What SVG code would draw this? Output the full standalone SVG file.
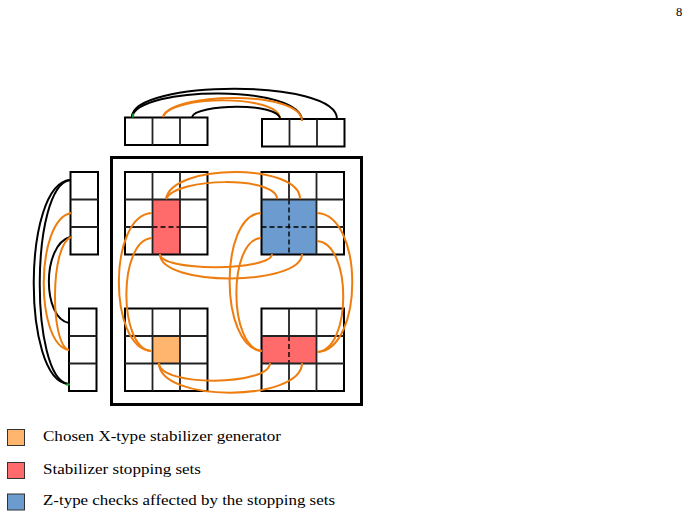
<svg xmlns="http://www.w3.org/2000/svg" width="689" height="518" viewBox="0 0 689 518">
<style>
.cell{fill:none;stroke:#000;stroke-width:2}
.inner{stroke:#222;stroke-width:1.8;fill:none}
.frame{fill:none;stroke:#000;stroke-width:3}
.dash{stroke:#000;stroke-width:1.4;stroke-dasharray:5,3;fill:none}
.red{fill:#FF6B6B}
.blue{fill:#6C9BCF}
.org{fill:#FFB56E}
.co{fill:none;stroke:#EE7D0F;stroke-width:2}
.cb{fill:none;stroke:#000;stroke-width:2}
.cg{fill:none;stroke:#1a9a2a;stroke-width:2}
.lg{stroke:#333;stroke-width:1}
.t{font-family:"Liberation Serif",serif;font-size:14px;fill:#000}
</style>
<rect width="689" height="518" fill="#fff"/>
<text class="t" x="676" y="16" style="font-size:12.5px">8</text>

<g id="frame"><rect class="frame" x="111.5" y="157.5" width="250" height="247"/></g>

<g id="grid-tl">
<rect class="red" x="152.5" y="199.5" width="27.5" height="55"/>
<path class="dash" d="M152.5,227 H180"/>
<rect class="cell" x="125" y="172" width="82.5" height="82.5"/>
<path class="inner" d="M152.5,172V254.5M180,172V254.5M125,199.5H207.5M125,227H152.5M180,227H207.5"/>
</g>
<g id="grid-tr">
<rect class="blue" x="261.5" y="199.5" width="55" height="55"/>
<path class="dash" d="M261.5,227H316.5M289,199.5V254.5"/>
<rect class="cell" x="261.5" y="172" width="82.5" height="82.5"/>
<path class="inner" d="M289,172V199.5M316.5,172V254.5M316.5,199.5H344M316.5,227H344M261.5,199.5H316.5"/>
</g>
<g id="grid-bl">
<rect class="org" x="152.5" y="336" width="27.5" height="27.5"/>
<rect class="cell" x="125" y="308.5" width="82.5" height="82.5"/>
<path class="inner" d="M152.5,308.5V391M180,308.5V391M125,336H207.5M125,363.5H207.5"/>
</g>
<g id="grid-br">
<rect class="red" x="261.5" y="336" width="55" height="27.5"/>
<path class="dash" d="M289,336V363.5"/>
<rect class="cell" x="261.5" y="308.5" width="82.5" height="82.5"/>
<path class="inner" d="M289,308.5V336M289,363.5V391M316.5,308.5V391M261.5,336H344M261.5,363.5H344"/>
</g>

<g id="top-left-array">
<rect class="cell" x="125" y="117.5" width="82.5" height="27.5"/>
<path class="inner" d="M152.5,117.5V145M180,117.5V145"/>
</g>
<g id="top-right-array">
<rect class="cell" x="262" y="119" width="82.5" height="27.5"/>
<path class="inner" d="M289.5,119V146.5M317,119V146.5"/>
</g>
<g id="left-top-array">
<rect class="cell" x="70.5" y="172" width="27.5" height="82.5"/>
<path class="inner" d="M70.5,199.5H98M70.5,227H98"/>
</g>
<g id="left-bottom-array">
<rect class="cell" x="69" y="308.5" width="27.5" height="82.5"/>
<path class="inner" d="M69,336H96.5M69,363.5H96.5"/>
</g>

<g id="connectors">
<path class="cb" d="M132,117 C132,80 337,78 337,119"/>
<path class="cb" d="M132,117 C138,86 302,84 302,121"/>
<path class="co" d="M163,117 C170,92 302,90 302,121"/>
<path class="co" d="M163,117 C170,95 280,94 280,119"/>
<path class="cb" d="M192,117 C195,104 280,102 280,119"/>
<path class="cg" d="M132.5,117.5 L133.5,113.5"/>

<path class="cb" d="M70,180 C22,184 22,380 68,384"/>
<path class="cb" d="M70,180 C30,186 30,378 68,384"/>
<path class="co" d="M71,213 C35,220 35,345 69,350"/>
<path class="cb" d="M70,237 C42,245 42,318 69,323"/>
<path class="co" d="M71,237 C50,245 50,345 69,350"/>
<path class="cg" d="M66,384.5 L70,384.5"/>

<path class="co" d="M166,199 C172,163 300,163 300,199"/>
<path class="co" d="M166,199 C176,177 277,176 277,199"/>
<path class="co" d="M152,213 C108,215 108,348 151,351"/>
<path class="co" d="M152,238 C118,240 118,348 151,351"/>
<path class="co" d="M160,254 C160,272 272,271 272,254"/>
<path class="co" d="M160,254 C160,287 302,286 302,254"/>
<path class="co" d="M261,213 C219,215 219,348 262,351"/>
<path class="co" d="M261,238 C228,240 228,348 262,351"/>
<path class="co" d="M317,213 C364,215 364,350 317,352"/>
<path class="co" d="M317,241 C352,243 352,350 317,352"/>
<path class="co" d="M159,363 C159,387 270,386 270,363"/>
<path class="co" d="M159,363 C159,403 302,402 302,363"/>
</g>

<g id="legend">
<rect class="org lg" x="7.5" y="429.5" width="17" height="16"/>
<rect class="red lg" x="7.5" y="462.5" width="17" height="16"/>
<rect class="blue lg" x="7.5" y="494" width="17" height="16"/>
<text class="t" x="43" y="441" textLength="238" lengthAdjust="spacingAndGlyphs">Chosen X-type stabilizer generator</text>
<text class="t" x="43" y="474" textLength="158" lengthAdjust="spacingAndGlyphs">Stabilizer stopping sets</text>
<text class="t" x="43" y="505" textLength="292" lengthAdjust="spacingAndGlyphs">Z-type checks affected by the stopping sets</text>
</g>
</svg>
